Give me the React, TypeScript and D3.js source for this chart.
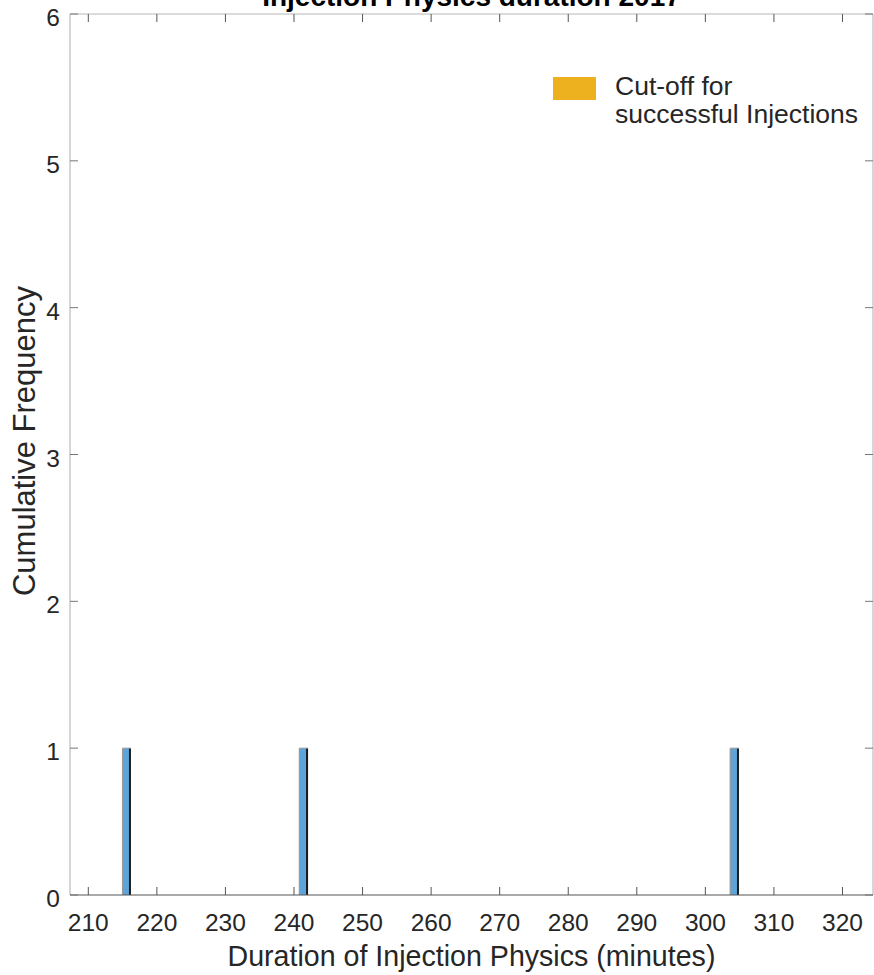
import React from "react";
import * as d3 from "d3";

// Histogram bins (minutes) and counts
const binStarts = [215.0, 240.78, 303.62];
const binEnds = [216.22, 242.05, 304.9];
const binCounts = [1, 1, 1];

const xTicks = [210, 220, 230, 240, 250, 260, 270, 280, 290, 300, 310, 320];
const yTicks = [0, 1, 2, 3, 4, 5, 6];

const xDomain = [207.33, 324.45];
const yDomain = [0, 6];

const titleText = "Injection Physics duration 2017";
const xLabelText = "Duration of Injection Physics (minutes)";
const yLabelText = "Cumulative Frequency";
const legendLines = ["Cut-off for", "successful Injections"];

const W = 874;
const H = 975;
const left = 70;
const right = 873;
const top = 14;
const bottom = 895;

const FONT = "'Liberation Sans', Arial, Helvetica, sans-serif";
const TEXT = "#262626";

export default function App() {
  const x = d3.scaleLinear().domain(xDomain).range([left, right]);
  const y = d3.scaleLinear().domain(yDomain).range([bottom, top]);
  const tickLen = 8;

  return (
    <svg
      width={W}
      height={H}
      style={{ position: "absolute", left: 0, top: 0, background: "#fff" }}
      fontFamily={FONT}
    >
      <rect x={0} y={0} width={W} height={H} fill="#fff" />

      {/* bars */}
      {binCounts.map((c, i) => {
        const x0 = x(binStarts[i]);
        const x1 = x(binEnds[i]);
        const y0 = y(c);
        return (
          <g key={i}>
            <rect x={x0} y={y0} width={x1 - x0} height={bottom - y0} fill="#5fa4d8" />
            <line x1={x0} x2={x0} y1={y0} y2={bottom} stroke="#9a9a9a" strokeWidth={1.2} />
            <line x1={x1 - 1} x2={x1 - 1} y1={y0} y2={bottom} stroke="#1a1a1a" strokeWidth={2} />
            <line x1={x0} x2={x1} y1={y0} y2={y0} stroke="#999" strokeWidth={1} />
          </g>
        );
      })}

      {/* box */}
      <line x1={left} x2={left} y1={top} y2={bottom} stroke="#c8c8c8" strokeWidth={1.5} />
      <line x1={right} x2={right} y1={top} y2={bottom} stroke="#c8c8c8" strokeWidth={1.5} />
      <line x1={left} x2={right} y1={top} y2={top} stroke="#cfcfcf" strokeWidth={1.5} />
      <line x1={left} x2={right} y1={bottom} y2={bottom} stroke="#555" strokeWidth={1.2} />

      {/* x ticks */}
      {xTicks.map((t) => (
        <g key={"xt" + t}>
          <line x1={x(t)} x2={x(t)} y1={bottom} y2={bottom - tickLen} stroke="#555" strokeWidth={1} />
          <line x1={x(t)} x2={x(t)} y1={top} y2={top + tickLen} stroke="#555" strokeWidth={1} />
          <text x={x(t)} y={931} textAnchor="middle" fontSize={24.5} fill={TEXT}>
            {t}
          </text>
        </g>
      ))}

      {/* y ticks */}
      {yTicks.map((t) => (
        <g key={"yt" + t}>
          <line x1={left} x2={left + tickLen} y1={y(t)} y2={y(t)} stroke="#777" strokeWidth={1} />
          <line x1={right} x2={right - tickLen} y1={y(t)} y2={y(t)} stroke="#777" strokeWidth={1} />
          <text x={60} y={y(t) + 12} textAnchor="end" fontSize={24.5} fill={TEXT}>
            {t}
          </text>
        </g>
      ))}

      {/* title */}
      <text x={(left + right) / 2} y={6} textAnchor="middle" fontSize={28} fontWeight="bold" fill="#000">
        {titleText}
      </text>

      {/* axis labels */}
      <text x={(left + right) / 2} y={966} textAnchor="middle" fontSize={28.6} fill={TEXT}>
        {xLabelText}
      </text>
      <text
        transform={`translate(35, ${441}) rotate(-90)`}
        textAnchor="middle"
        fontSize={31}
        fill={TEXT}
      >
        {yLabelText}
      </text>

      {/* legend */}
      <rect x={553} y={77} width={43} height={23} fill="#edb120" />
      {legendLines.map((l, i) => (
        <text key={i} x={615} y={95 + i * 28.3} fontSize={26.5} fill={TEXT}>
          {l}
        </text>
      ))}
    </svg>
  );
}
